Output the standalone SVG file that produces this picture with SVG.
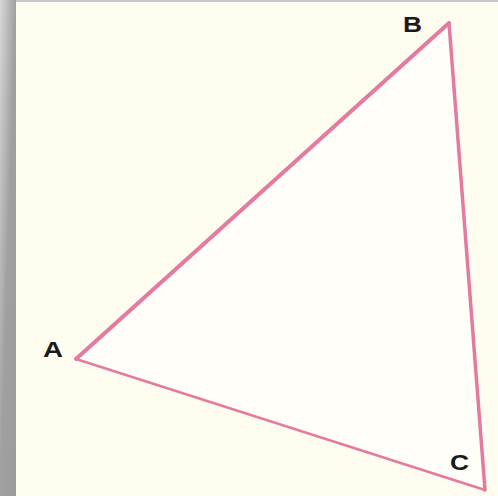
<svg xmlns="http://www.w3.org/2000/svg" width="498" height="496" viewBox="0 0 498 496">
<defs>
<linearGradient id="strip" x1="0" y1="0" x2="1" y2="1">
<stop offset="0" stop-color="#d8d8d8"/>
<stop offset="0.5" stop-color="#a0a0a0"/>
<stop offset="1" stop-color="#9c9c9c"/>
</linearGradient>
<style>
.lbl{font-family:"Liberation Sans",Arial,sans-serif;font-weight:bold;font-size:22px;fill:#1a1a1a}
.edge{stroke:#e57aa0;stroke-linecap:round;fill:none}
</style>
</defs>
<rect width="498" height="496" fill="#a0a0a0"/>
<rect x="0" y="0" width="498" height="3" fill="#c8c8c8"/>
<rect x="0" y="0" width="16" height="496" fill="url(#strip)"/>
<rect x="16" y="2" width="482" height="494" fill="#fffdf0"/>
<polygon points="76,359 449,23 485,490" fill="#fffef9"/>
<g id="connectors">
<line class="edge" x1="76" y1="359" x2="449" y2="23" stroke-width="4"/>
<line class="edge" x1="449" y1="23" x2="485" y2="490" stroke-width="3.5"/>
<line class="edge" x1="76" y1="359" x2="485" y2="490" stroke-width="2.5" stroke="#d9709a"/>
</g>
<g id="A"><text class="lbl" x="43" y="357" textLength="20" lengthAdjust="spacingAndGlyphs">A</text></g>
<g id="B"><text class="lbl" x="403" y="32" textLength="19" lengthAdjust="spacingAndGlyphs">B</text></g>
<g id="C"><text class="lbl" x="450" y="470" textLength="19" lengthAdjust="spacingAndGlyphs">C</text></g>
</svg>
